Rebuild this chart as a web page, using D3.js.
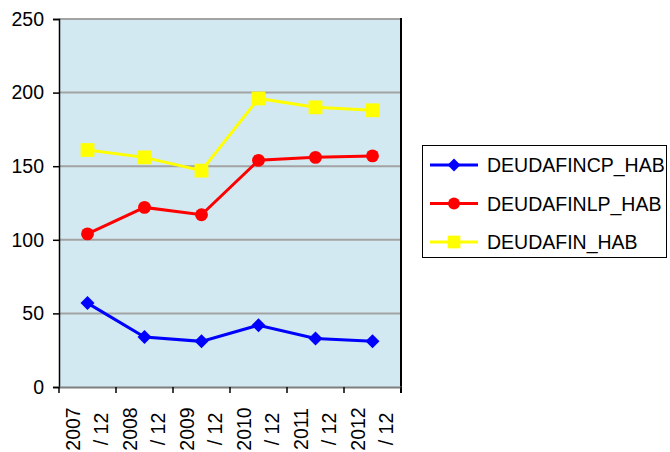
<!DOCTYPE html>
<html>
<head>
<meta charset="utf-8">
<script src="https://cdn.jsdelivr.net/npm/d3@7"></script>
<style>
body { margin: 0; background: #fff; }
text { font-family: "Liberation Sans", Arial, sans-serif; }
</style>
</head>
<body>
<svg id="svg"></svg>
<script>
var width = 670, height = 452;

var categories = ["2007 / 12", "2008 / 12", "2009 / 12", "2010 / 12", "2011 / 12", "2012 / 12"];
var seriesNames = ["DEUDAFINCP_HAB", "DEUDAFINLP_HAB", "DEUDAFIN_HAB"];
var cpValues = [57, 34, 31, 42, 33, 31];
var lpValues = [104, 122, 117, 154, 156, 157];
var finValues = [161, 156, 147, 196, 190, 188];
var yTicks = [0, 50, 100, 150, 200, 250];

var colors = ["#0000ff", "#ff0000", "#ffff00"];
var shapes = [d3.symbolSquare, d3.symbolCircle, d3.symbolSquare];
var sizes = [98, 130, 190];
var angles = [45, 0, 0];

var svg = d3.select("#svg")
	.attr("width", width)
	.attr("height", height);

var plotLeft = 59, plotRight = 401, plotTop = 19, plotBottom = 387;

var x = d3.scaleBand()
	.domain(categories)
	.range([plotLeft, plotRight]);

var y = d3.scaleLinear()
	.domain([0, 250])
	.range([plotBottom, plotTop]);

// plot background
svg.append("rect")
	.attr("x", plotLeft)
	.attr("y", plotTop)
	.attr("width", plotRight - plotLeft)
	.attr("height", plotBottom - plotTop)
	.attr("fill", "#d2e9f1");

// gridlines
svg.append("g")
	.selectAll("line")
	.data(yTicks.filter(function(d) { return d > 0; }))
	.enter()
	.append("line")
	.attr("x1", plotLeft)
	.attr("x2", plotRight)
	.attr("y1", function(d) { return y(d); })
	.attr("y2", function(d) { return y(d); })
	.attr("stroke", "#a3a3a3")
	.attr("stroke-width", 2);

// right border
svg.append("line")
	.attr("x1", plotRight).attr("x2", plotRight)
	.attr("y1", plotTop - 1).attr("y2", plotBottom + 6)
	.attr("stroke", "#000")
	.attr("stroke-width", 2);

// y axis
var yAxis = d3.axisLeft(y)
	.tickValues(yTicks)
	.tickSize(6)
	.tickPadding(9);
var gy = svg.append("g")
	.attr("transform", "translate(" + plotLeft + ",0)")
	.call(yAxis);
gy.select(".domain").attr("stroke", "#000").attr("stroke-width", 1.5);
gy.selectAll(".tick line").attr("stroke", "#000").attr("stroke-width", 1.5);
gy.selectAll(".tick text")
	.attr("font-size", "19.5px")
	.attr("fill", "#000")
	.style("font-family", "Liberation Sans, Arial, sans-serif");

// x axis
var xAxis = d3.axisBottom(x)
	.tickSize(0)
	.tickFormat("");
var gx = svg.append("g")
	.attr("transform", "translate(0," + plotBottom + ")")
	.call(xAxis);
gx.select(".domain").attr("stroke", "#7f7f7f").attr("stroke-width", 2);

// x tick marks at band boundaries
var boundaries = categories.map(function(c) { return x(c); }).concat([plotRight]);
svg.append("g")
	.selectAll("line")
	.data(boundaries)
	.enter()
	.append("line")
	.attr("x1", function(d) { return d; })
	.attr("x2", function(d) { return d; })
	.attr("y1", plotBottom)
	.attr("y2", plotBottom + 6)
	.attr("stroke", "#000")
	.attr("stroke-width", 1.5);

// x labels, rotated, two lines each
var labelG = svg.append("g");
categories.forEach(function(c) {
	var parts = c.split(" / ");
	var cx = x(c) + x.bandwidth() / 2;
	var lines = [parts[0], "/ " + parts[1]];
	var offs = [-14.5, 13.5];
	lines.forEach(function(t, j) {
		labelG.append("text")
			.attr("transform", "translate(" + (cx + offs[j]) + ",429) rotate(-90)")
			.attr("text-anchor", "middle")
			.attr("dominant-baseline", "central")
			.attr("font-size", "19.5px")
			.attr("fill", "#000")
			.text(t);
	});
});

// series
var allSeries = [cpValues, lpValues, finValues];
var line = d3.line()
	.x(function(d, i) { return x(categories[i]) + x.bandwidth() / 2; })
	.y(function(d) { return y(d); });

allSeries.forEach(function(vals, s) {
	svg.append("path")
		.attr("d", line(vals))
		.attr("fill", "none")
		.attr("stroke", colors[s])
		.attr("stroke-width", 3);
	svg.append("g")
		.selectAll("path")
		.data(vals)
		.enter()
		.append("path")
		.attr("transform", function(d, i) {
			return "translate(" + (x(categories[i]) + x.bandwidth() / 2) + "," + y(d) + ") rotate(" + angles[s] + ")";
		})
		.attr("d", d3.symbol().type(shapes[s]).size(sizes[s]))
		.attr("fill", colors[s]);
});

// legend
var legend = svg.append("g");
legend.append("rect")
	.attr("x", 422.5)
	.attr("y", 145.5)
	.attr("width", 244)
	.attr("height", 112)
	.attr("fill", "#fff")
	.attr("stroke", "#000")
	.attr("stroke-width", 1);

seriesNames.forEach(function(name, s) {
	var ly = 165 + s * 38.5;
	legend.append("line")
		.attr("x1", 430).attr("x2", 478)
		.attr("y1", ly).attr("y2", ly)
		.attr("stroke", colors[s])
		.attr("stroke-width", 3);
	legend.append("path")
		.attr("transform", "translate(454," + ly + ") rotate(" + angles[s] + ")")
		.attr("d", d3.symbol().type(shapes[s]).size(sizes[s] * 0.85))
		.attr("fill", colors[s]);
	legend.append("text")
		.attr("x", 487)
		.attr("y", ly)
		.attr("dominant-baseline", "central")
		.attr("font-size", "19.5px")
		.attr("fill", "#000")
		.text(name);
});
</script>
</body>
</html>
